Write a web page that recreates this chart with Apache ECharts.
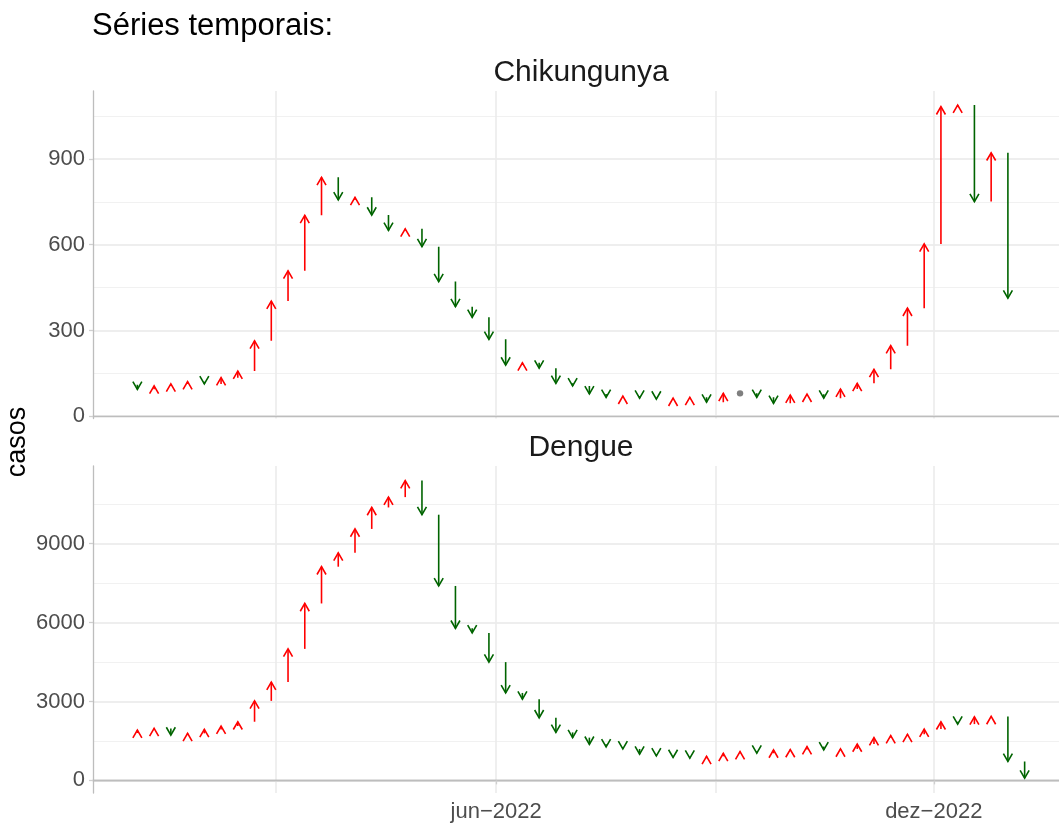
<!DOCTYPE html>
<html>
<head>
<meta charset="utf-8">
<script src="https://cdn.jsdelivr.net/npm/echarts@6/dist/echarts.min.js"></script>
<style>
html, body { margin: 0; padding: 0; background: #fff; }
#main { width: 1059px; height: 823px; }
</style>
</head>
<body>
<div id="main"></div>
<script>
var DAY = 86400000;
// semanas epidemiológicas, a primeira começa em 2022-01-02
var primeiraSemana = Date.UTC(2022, 0, 2);
// casos semanais; o primeiro valor é a semana anterior (52/2021)
var chikCasos = [110, 94, 106, 113, 121, 113, 135, 158, 264, 403, 509, 703, 836, 757, 766, 704, 650, 656,
  593, 471, 383, 346, 269, 179, 187, 168, 115, 106, 78, 66, 70, 63, 60, 63, 66, 49, 80, 80, 66, 45, 74, 77,
  63, 95, 115, 164, 247, 378, 603, 1083, 1089, 751, 922, 413];
var dengueCasos = [1800, 1912, 1977, 1724, 1788, 1939, 2064, 2230, 3023, 3741, 5000, 6727, 8125, 8654, 9561,
  10378, 10771, 11398, 10102, 7393, 5782, 5605, 4497, 3325, 3085, 2380, 1825, 1625, 1372, 1270, 1195, 994,
  930, 869, 843, 915, 1032, 1096, 1032, 1157, 1175, 1285, 1157, 1195, 1384, 1625, 1700, 1750, 1950, 2230,
  2140, 2418, 2430, 718, 87];

var xRotulos = ['jun\u22122022', 'dez\u22122022'];
var xMarcas = [Date.UTC(2022, 5, 1), Date.UTC(2022, 11, 1)];
var xMarcasMenores = [Date.UTC(2022, 2, 1), Date.UTC(2022, 8, 1)];
var chikTicks = [0, 300, 600, 900];
var chikMenores = [150, 450, 750, 1050];
var dengueTicks = [0, 3000, 6000, 9000];
var dengueMenores = [1500, 4500, 7500, 10500];

var FONTE = '"Liberation Sans", Arial, Helvetica, sans-serif';
var HEAD = 9;

function setas(casos) {
  var d = [];
  for (var i = 1; i < casos.length; i++) {
    d.push([primeiraSemana + (i - 1) * 7 * DAY, casos[i - 1], casos[i]]);
  }
  return d;
}

// limites do eixo x como no ggplot (5% de cada lado); o painel original passa da borda direita,
// então o eixo é cortado em 966 dos 976 px
var ultimaSemana = primeiraSemana + (dengueCasos.length - 2) * 7 * DAY;
var pad = 0.05 * (ultimaSemana - primeiraSemana);
var xMin = primeiraSemana - pad;
var xMax = xMin + (ultimaSemana + pad - xMin) * 966 / 976;

function renderSeta(params, api) {
  var x = api.value(0), y0 = api.value(1), y1 = api.value(2);
  var p0 = api.coord([x, y0]), p1 = api.coord([x, y1]);
  if (y0 === y1) {
    return { type: 'circle', shape: { cx: p1[0], cy: p1[1], r: 3.2 }, style: { fill: '#7f7f7f' } };
  }
  var cor = y1 > y0 ? '#ff0000' : '#006400';
  var dir = p1[1] < p0[1] ? 1 : -1;
  var hw = HEAD * Math.sin(Math.PI / 6), hh = HEAD * Math.cos(Math.PI / 6);
  return {
    type: 'group',
    children: [
      { type: 'line', shape: { x1: p0[0], y1: p0[1], x2: p1[0], y2: p1[1] },
        style: { stroke: cor, lineWidth: 1.6 } },
      { type: 'polyline', shape: { points: [[p1[0] - hw, p1[1] + dir * hh], [p1[0], p1[1]], [p1[0] + hw, p1[1] + dir * hh]] },
        style: { stroke: cor, fill: null, lineWidth: 1.6 } }
    ]
  };
}

function eixoX(grid, valores, principal, comRotulos, topo) {
  return {
    type: 'value', gridIndex: grid, min: xMin, max: xMax,
    position: topo ? 'top' : 'bottom',
    axisLine: { show: principal || topo, lineStyle: { color: '#bdbdbd', width: 1.3 } },
    axisTick: { show: comRotulos, length: 4, customValues: valores, lineStyle: { color: '#cfcfcf', width: 1.3 } },
    axisLabel: {
      show: comRotulos, customValues: valores, margin: 8,
      fontSize: 22, fontFamily: FONTE, color: '#4d4d4d',
      formatter: function (v) { var k = xMarcas.indexOf(v); return k >= 0 ? xRotulos[k] : ''; }
    },
    splitLine: { show: true, lineStyle: { color: '#ebebeb', width: 1.6 } }
  };
}

function eixoY(grid, min, max, valores, principal) {
  return {
    type: 'value', gridIndex: grid, min: min, max: max, position: 'left',
    axisLine: { show: principal, lineStyle: { color: '#bdbdbd', width: 1.3 } },
    axisTick: { show: principal, length: 4, customValues: valores, lineStyle: { color: '#cfcfcf', width: 1.3 } },
    axisLabel: {
      show: principal, customValues: valores, margin: 8, fontSize: 22, fontFamily: FONTE, color: '#4d4d4d',
      formatter: function (v) { return String(v); }
    },
    splitLine: { show: true, lineStyle: { color: principal ? '#e8e8e8' : '#efefef', width: principal ? 1.6 : 0.9 } }
  };
}

var myChart = echarts.init(document.getElementById('main'));
var option = {
  animation: false,
  backgroundColor: '#ffffff',
  grid: [
    { left: 93, right: 0, top: 91, height: 327.5 },
    { left: 93, right: 0, top: 466, height: 329 }
  ],
  xAxis: [
    eixoX(0, xMarcas, true, false, false),
    eixoX(0, xMarcasMenores, false, false, false),
    eixoX(1, xMarcas, true, true, false),
    eixoX(1, xMarcasMenores, false, false, true)
  ],
  yAxis: [
    eixoY(0, -8, 1138, chikTicks, true),
    eixoY(0, -8, 1138, chikMenores, false),
    eixoY(1, -480, 11954, dengueTicks, true),
    eixoY(1, -480, 11954, dengueMenores, false)
  ],
  graphic: [
    { type: 'text', x: 92, y: 26, style: { text: 'Séries temporais:', font: '31px ' + FONTE, fill: '#000', textAlign: 'left', textVerticalAlign: 'middle' } },
    { type: 'text', x: 581, y: 73, style: { text: 'Chikungunya', font: '30px ' + FONTE, fill: '#1a1a1a', textAlign: 'center', textVerticalAlign: 'middle' } },
    { type: 'text', x: 581, y: 448, style: { text: 'Dengue', font: '30px ' + FONTE, fill: '#1a1a1a', textAlign: 'center', textVerticalAlign: 'middle' } },
    { type: 'text', x: 18, y: 442, rotation: Math.PI / 2, style: { text: 'casos', font: '27px ' + FONTE, fill: '#000', textAlign: 'center', textVerticalAlign: 'middle' } }
  ],
  series: [
    { name: 'Chikungunya', type: 'custom', xAxisIndex: 0, yAxisIndex: 0, renderItem: renderSeta,
      encode: { x: 0, y: [1, 2] }, data: setas(chikCasos), clip: true },
    { name: 'Dengue', type: 'custom', xAxisIndex: 2, yAxisIndex: 2, renderItem: renderSeta,
      encode: { x: 0, y: [1, 2] }, data: setas(dengueCasos), clip: true }
  ]
};
myChart.setOption(option);
</script>
</body>
</html>
